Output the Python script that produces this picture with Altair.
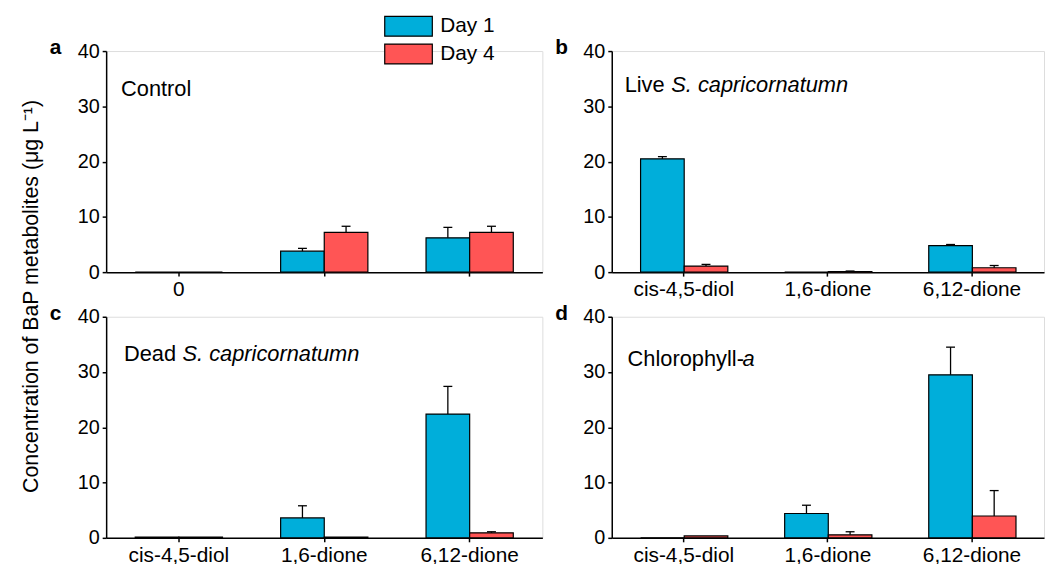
import altair as alt
import pandas as pd

categories = ["cis-4,5-diol", "1,6-dione", "6,12-dione"]
days = ["Day 1", "Day 4"]
colors = ["#00AEDA", "#FF5555"]

control_day1 = [0.0, 3.8, 6.2]
control_day1_err = [0.0, 0.5, 1.9]
control_day4 = [0.0, 7.2, 7.2]
control_day4_err = [0.0, 1.1, 1.1]

live_day1 = [20.5, 0.0, 4.8]
live_day1_err = [0.4, 0.0, 0.2]
live_day4 = [1.1, 0.1, 0.8]
live_day4_err = [0.3, 0.1, 0.4]

dead_day1 = [0.15, 3.6, 22.4]
dead_day1_err = [0.0, 2.2, 5.0]
dead_day4 = [0.15, 0.15, 0.9]
dead_day4_err = [0.0, 0.0, 0.2]

chl_day1 = [0.0, 4.4, 29.5]
chl_day1_err = [0.0, 1.5, 5.0]
chl_day4 = [0.35, 0.55, 3.95]
chl_day4_err = [0.0, 0.55, 4.6]

FONT = "Liberation Sans"
Y_TITLE = "Concentration of BaP metabolites (\u03bcg L\u207b\u00b9)"
BOX = "M-2.4,-1L2.4,-1L2.4,1L-2.4,1Z"


def make_panel(d1, e1, d4, e4, letter, parts, lx, ly, width,
               x_label_expr=None, y_title=False):
    rows = []
    for i, c in enumerate(categories):
        rows.append(dict(cat=c, day=days[0], val=d1[i], err=e1[i], hi=d1[i] + e1[i]))
        rows.append(dict(cat=c, day=days[1], val=d4[i], err=e4[i], hi=d4[i] + e4[i]))
    df = pd.DataFrame(rows)

    xaxis_kw = dict(title=None, labelAngle=0, labelFontSize=21, labelFont=FONT,
                    labelColor="black", domainColor="black", domainWidth=1.5,
                    tickColor="black", tickWidth=1.5, tickSize=4, labelPadding=3)
    if x_label_expr:
        xaxis_kw["labelExpr"] = x_label_expr
    x = alt.X("cat:N", sort=categories,
              scale=alt.Scale(paddingInner=0.4, paddingOuter=0.2),
              axis=alt.Axis(**xaxis_kw))
    xo = alt.XOffset("day:N", sort=days, scale=alt.Scale(paddingInner=0, paddingOuter=0))

    yaxis_kw = dict(values=[0, 5, 10, 15, 20, 25, 30, 35, 40],
                    labelExpr="datum.value % 10 === 0 ? datum.label : ''",
                    tickSize={"condition": {"test": "datum.value % 10 === 0", "value": 4}, "value": 2},
                    labelFontSize=20, labelFont=FONT, labelColor="black",
                    domainColor="black", domainWidth=1.5, tickColor="black",
                    tickWidth=1.5, labelPadding=3, grid=False, title=None)
    if y_title:
        yaxis_kw.update(title=Y_TITLE, titleFont=FONT, titleFontSize=21.5,
                        titleFontWeight="normal", titleColor="black",
                        titleX=-75, titleY=247, titleAngle=270,
                        titleAlign="center", titleBaseline="middle")
    y = alt.Y("val:Q", scale=alt.Scale(domain=[0, 40], nice=False),
              axis=alt.Axis(**yaxis_kw))
    color = alt.Color("day:N", scale=alt.Scale(domain=days, range=colors),
                      legend=alt.Legend(orient="none", legendX=294, legendY=-36,
                                        title=None, symbolType=BOX, symbolSize=400,
                                        symbolStrokeColor="black", symbolStrokeWidth=1.2,
                                        symbolOpacity=1,
                                        labelFont=FONT, labelFontSize=21,
                                        labelColor="black", labelOffset=21,
                                        rowPadding=2))

    base = alt.Chart(df)
    bars = base.mark_bar(stroke="black", strokeWidth=1.2, opacity=1).encode(
        x=x, xOffset=xo, y=y, color=color)
    errs = base.transform_filter("datum.err > 0").mark_rule(
        color="black", strokeWidth=1.3).encode(x=x, xOffset=xo, y="val:Q", y2="hi:Q")
    caps = base.transform_filter("datum.err > 0").mark_tick(
        color="black", thickness=1.3, size=9, opacity=1).encode(x=x, xOffset=xo, y="hi:Q")

    one = alt.Data(values=[{}])
    layers = [bars, errs, caps]
    layers.append(alt.Chart(one).mark_text(
        text=letter, font="Liberation Sans", fontSize=21, fontWeight="bold",
        align="left", baseline="alphabetic", color="black").encode(
        x=alt.value(-57), y=alt.value(3)))
    offset = 0
    for txt, italic, w in parts:
        layers.append(alt.Chart(one).mark_text(
            text=txt, font=FONT, fontSize=22, fontStyle="italic" if italic else "normal",
            align="left", baseline="alphabetic", color="black").encode(
            x=alt.value(lx + offset), y=alt.value(ly)))
        offset += w
    return alt.layer(*layers).properties(width=width, height=223)


a = make_panel(control_day1, control_day1_err, control_day4, control_day4_err,
               "a", [("Control", False, 0)], 15, 45, 440,
               x_label_expr="datum.value == 'cis-4,5-diol' ? '0' : ''", y_title=True)
b = make_panel(live_day1, live_day1_err, live_day4, live_day4_err,
               "b", [("Live ", False, 47), ("S. capricornatumn", True, 0)], 13, 41, 436)
c = make_panel(dead_day1, dead_day1_err, dead_day4, dead_day4_err,
               "c", [("Dead ", False, 59), ("S. capricornatumn", True, 0)], 18, 45, 440)
d = make_panel(chl_day1, chl_day1_err, chl_day4, chl_day4_err,
               "d", [("Chlorophyll-", False, 116), ("a", True, 0)], 16, 50, 436)

chart = alt.concat(a, b, c, d, columns=2, spacing={"row": 45, "column": 70}).properties(
    bounds="flush", padding={"left": 12, "top": 5, "right": 0, "bottom": 0}
).configure_view(stroke=None).configure(font=FONT)

chart.save("out.html", embed_options={"renderer": "svg", "actions": False})
